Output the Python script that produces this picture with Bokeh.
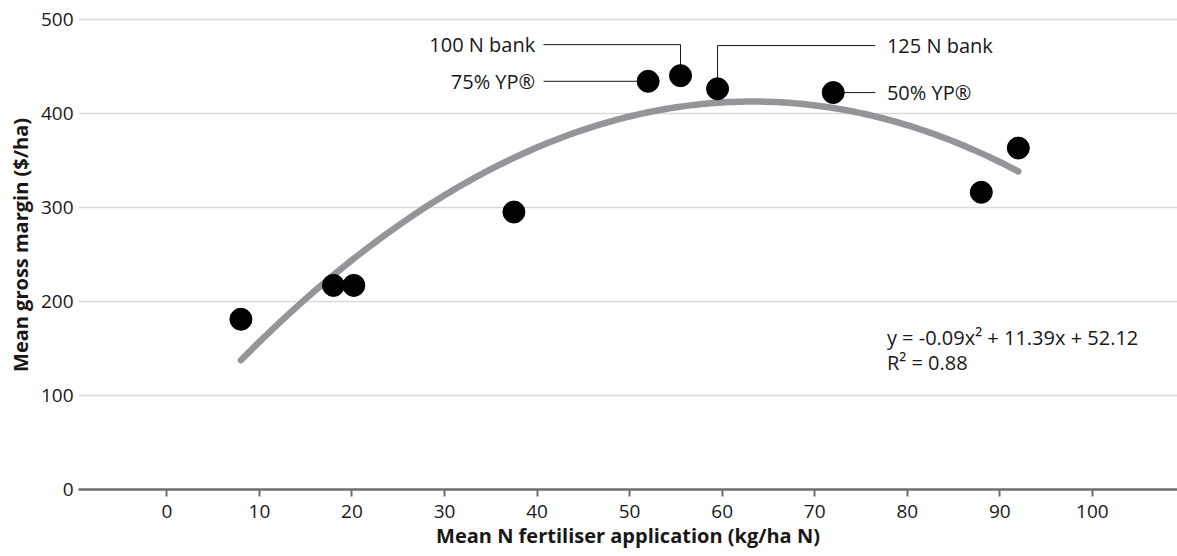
import numpy as np
from bokeh.plotting import figure
from bokeh.models import Range1d, FixedTicker, ColumnDataSource
from bokeh.core.properties import value
from bokeh.embed import file_html
from bokeh.resources import INLINE

# Mean N applied (kg/ha N) and mean gross margin ($/ha) for each strategy
n_rate = [8, 18, 20.2, 37.5, 52, 55.5, 59.5, 72, 88, 92]
gross_margin = [181, 217, 217, 295, 434, 440, 426, 422, 316, 363]

# Quadratic trend: y = a*x^2 + b*x + c
fit_coeffs = [-0.09, 11.39, 52.12]
r_squared = 0.88

# Labelled strategies: (label, index of point, side, leader row or None)
callouts = [
    ("100 N bank", 5, "left", 473),
    ("75% YP®", 4, "left", None),
    ("125 N bank", 6, "right", 472),
    ("50% YP®", 7, "right", None),
]

x_ticks = list(range(0, 101, 10))
y_ticks = list(range(0, 501, 100))

FONT = "Open Sans"
INK = "#1a1718"
GRID = "#d9d9d9"
AXIS = "#6d6e71"
TREND = "#939598"
TICK_FS = "19px"
TITLE_FS = "20px"
NOTE_FS = "20px"

p = figure(width=1177, height=556, output_backend="svg", toolbar_location=None,
           x_range=Range1d(-9.55, 109.2), y_range=Range1d(0, 519.9),
           min_border_left=78, min_border_right=0, min_border_top=0,
           min_border_bottom=67)
p.outline_line_color = None
p.background_fill_color = "white"
p.border_fill_color = "white"

# grid
p.xgrid.grid_line_color = None
p.ygrid.grid_line_color = GRID
p.ygrid.grid_line_width = 1.5
p.ygrid.ticker = FixedTicker(ticks=y_ticks[1:])

# x axis
xa = p.xaxis[0]
xa.ticker = FixedTicker(ticks=x_ticks)
xa.axis_line_color = AXIS
xa.axis_line_width = 2.5
xa.major_tick_line_color = AXIS
xa.major_tick_line_width = 2
xa.major_tick_out = 7
xa.major_tick_in = 0
xa.minor_tick_line_color = None
xa.major_label_standoff = 8
xa.major_label_text_font = FONT
xa.major_label_text_font_size = TICK_FS
xa.major_label_text_color = INK
xa.axis_label = "Mean N fertiliser application (kg/ha N)"
xa.axis_label_text_font = FONT
xa.axis_label_text_font_style = "bold"
xa.axis_label_text_font_size = TITLE_FS
xa.axis_label_text_color = INK
xa.axis_label_standoff = 1

# y axis
ya = p.yaxis[0]
ya.ticker = FixedTicker(ticks=y_ticks)
ya.axis_line_color = None
ya.major_tick_line_color = None
ya.minor_tick_line_color = None
ya.major_tick_out = 0
ya.major_tick_in = 0
ya.major_label_standoff = 5
ya.major_label_text_font = FONT
ya.major_label_text_font_size = TICK_FS
ya.major_label_text_color = INK
ya.axis_label = "Mean gross margin ($/ha)"
ya.axis_label_text_font = FONT
ya.axis_label_text_font_style = "bold"
ya.axis_label_text_font_size = TITLE_FS
ya.axis_label_text_color = INK
ya.axis_label_standoff = 4

# trend curve across the observed N range
xs = np.linspace(min(n_rate), max(n_rate), 200)
ys = np.polyval(fit_coeffs, xs)
p.line(xs, ys, line_color=TREND, line_width=6.5, line_cap="round")

# callout leaders and labels
LEFT_END, LEFT_TEXT = 40.7, 39.8
RIGHT_END, RIGHT_TEXT = 76.55, 77.8
lx, ly, tx, ty, tt, ta = [], [], [], [], [], []
for label, i, side, row in callouts:
    px, py = n_rate[i], gross_margin[i]
    end = LEFT_END if side == "left" else RIGHT_END
    if row is None:
        lx.append([px, end]); ly.append([py, py]); yy = py
    else:
        lx.append([px, px, end]); ly.append([py, row, row]); yy = row
    tx.append(LEFT_TEXT if side == "left" else RIGHT_TEXT)
    ty.append(yy)
    tt.append(label)
    ta.append("right" if side == "left" else "left")
p.multi_line(lx, ly, line_color=INK, line_width=1)
p.text(x="x", y="y", text="t", text_align="a",
       source=ColumnDataSource(dict(x=tx, y=ty, t=tt, a=ta)),
       text_baseline="middle", text_font=value(FONT), text_font_size=NOTE_FS,
       text_color=INK)

# data points
p.scatter(n_rate, gross_margin, size=22, fill_color="black", line_color="black")

# equation and fit quality
a, b, c = fit_coeffs
eq = f"y = {a:.2f}x² + {b:.2f}x + {c:.2f}"
r2 = f"R² = {r_squared:.2f}"
p.text(x=[RIGHT_TEXT, RIGHT_TEXT], y=[161.7, 135], text=[eq, r2],
       text_baseline="middle", text_align="left", text_font=value(FONT),
       text_font_size=NOTE_FS, text_color=INK)

open("out.html", "w").write(file_html(p, INLINE))
